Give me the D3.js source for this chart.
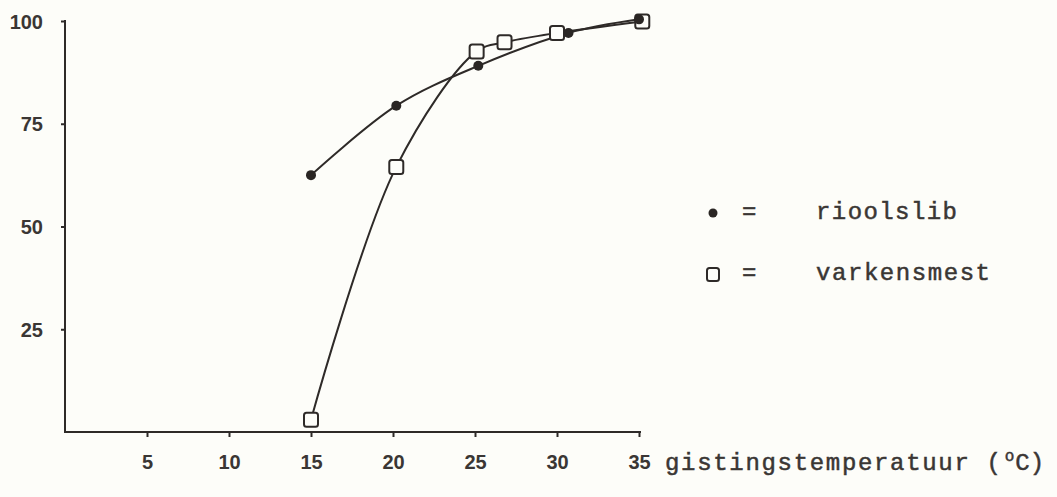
<!DOCTYPE html>
<meta charset="utf-8">
<style>
    body { margin: 0; background: #fdfdf9; }
    svg { display: block; }
    .tick text { font-family: "Liberation Sans", Arial, sans-serif; font-weight: bold; font-size: 20px; fill: #3a3634; }
    .axis path, .axis line { stroke: #2e2a28; stroke-width: 2; }
    .typed { font-family: "Liberation Mono", monospace; font-size: 24px; fill: #3a3634; stroke: #3a3634; stroke-width: 0.5; }
</style>
<body>
<script src="https://d3js.org/d3.v7.min.js"></script>
<script>
    // values
    var xTicks = [5, 10, 15, 20, 25, 30, 35];
    var yTicks = [25, 50, 75, 100];

    var rioolT = [15, 20.2, 25.2, 30.7, 35];
    var rioolV = [62.5, 79.4, 89.1, 97.1, 100.4];

    var varkT = [15, 20.2, 25.1, 26.8, 30, 35.2];
    var varkV = [3, 64.5, 92.6, 94.8, 97.1, 99.9];

    var width = 1057, height = 497;

    var x = d3.scaleLinear().domain([0, 35]).range([65, 639]);
    var y = d3.scaleLinear().domain([0, 100]).range([432, 21]);

    var svg = d3.select("body").append("svg")
        .attr("width", width)
        .attr("height", height);

    // x axis
    var gx = svg.append("g")
        .attr("class", "axis")
        .attr("transform", "translate(0," + y(0) + ")")
        .call(d3.axisBottom(x).tickValues(xTicks).tickSize(5).tickSizeOuter(0).tickPadding(18));
    gx.select(".domain").attr("d", "M" + x(0) + ",0H" + (x(35) + 2));

    // y axis
    var gy = svg.append("g")
        .attr("class", "axis")
        .attr("transform", "translate(" + x(0) + ",0)")
        .call(d3.axisLeft(y).tickValues(yTicks).tickSize(4).tickSizeOuter(0).tickPadding(18));
    gy.select(".domain").attr("d", "M0," + (y(100) - 1) + "V" + (y(0) + 1));
    gy.selectAll(".tick text").attr("dy", "0.35em");

    var line = d3.line()
        .x(function (d) { return x(d[0]); })
        .y(function (d) { return y(d[1]); })
        .curve(d3.curveCatmullRom.alpha(0.5));

    var riool = rioolT.map(function (t, i) { return [t, rioolV[i]]; });
    var vark = varkT.map(function (t, i) { return [t, varkV[i]]; });

    svg.append("path").datum(vark)
        .attr("d", line).attr("fill", "none")
        .attr("stroke", "#2e2a28").attr("stroke-width", 2);
    svg.append("path").datum(riool)
        .attr("d", line).attr("fill", "none")
        .attr("stroke", "#2e2a28").attr("stroke-width", 2);

    // squares
    svg.selectAll(".sq")
        .data(vark)
        .enter().append("rect")
        .attr("class", "sq")
        .attr("x", function (d) { return x(d[0]) - 7; })
        .attr("y", function (d) { return y(d[1]) - 7; })
        .attr("width", 14).attr("height", 14)
        .attr("rx", 2.5)
        .attr("fill", "#fdfdf9")
        .attr("stroke", "#2e2a28").attr("stroke-width", 2);

    // dots
    svg.selectAll(".dot")
        .data(riool)
        .enter().append("circle")
        .attr("class", "dot")
        .attr("cx", function (d) { return x(d[0]); })
        .attr("cy", function (d) { return y(d[1]); })
        .attr("r", 5)
        .attr("fill", "#2a2624");

    // legend
    svg.append("circle").attr("cx", 713).attr("cy", 213).attr("r", 4.5).attr("fill", "#2a2624");
    svg.append("rect").attr("x", 707).attr("y", 268).attr("width", 12).attr("height", 13).attr("rx", 2.5)
        .attr("fill", "none").attr("stroke", "#2e2a28").attr("stroke-width", 2);
    svg.append("text").attr("class", "typed").attr("x", 742).attr("y", 219).text("=");
    svg.append("text").attr("class", "typed").attr("x", 742).attr("y", 280).text("=");
    svg.append("text").attr("class", "typed").attr("x", 816).attr("y", 219)
        .attr("textLength", 141).attr("lengthAdjust", "spacing").text("rioolslib");
    svg.append("text").attr("class", "typed").attr("x", 816).attr("y", 280)
        .attr("textLength", 174).attr("lengthAdjust", "spacing").text("varkensmest");

    // x axis title
    var t = svg.append("text").attr("class", "typed").attr("x", 665).attr("y", 470);
    t.append("tspan").attr("textLength", 336).attr("lengthAdjust", "spacing").text("gistingstemperatuur (");
    t.append("tspan").attr("dx", 2).attr("dy", -9).attr("font-size", 16).text("o");
    t.append("tspan").attr("dy", 9).attr("dx", 1).text("C)");
</script>
</body>
